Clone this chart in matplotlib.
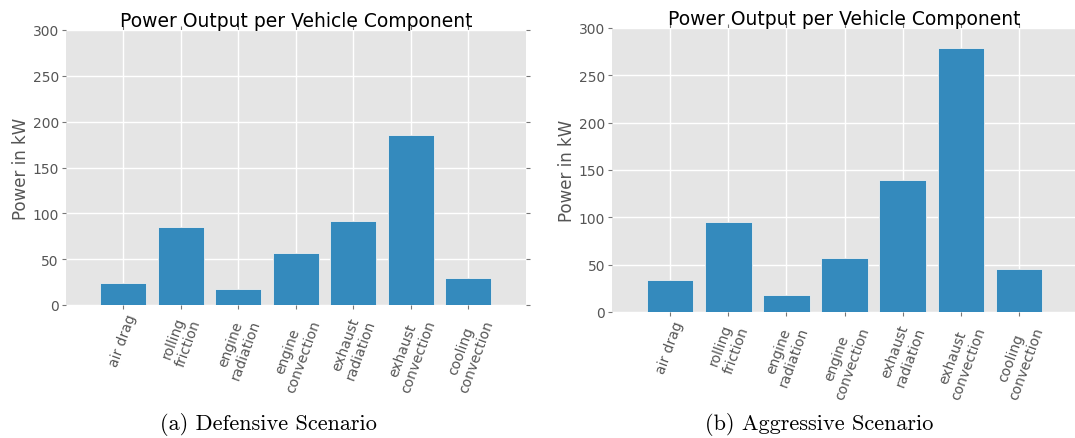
import matplotlib
matplotlib.use("Agg")
import matplotlib.pyplot as plt
import numpy as np

categories = ["air drag", "rolling\nfriction", "engine\nradiation", "engine\nconvection",
              "exhaust\nradiation", "exhaust\nconvection", "cooling\nconvection"]
defensive = [23.6, 85.5, 17.8, 57.1, 92.0, 185.8, 29.8]
aggressive = [33.3, 94.6, 17.5, 57.1, 139.5, 279.4, 45.2]
y_ticks = [0, 50, 100, 150, 200, 250, 300]
title = "Power Output per Vehicle Component"
ylabel = "Power in kW"
captions = ["(a) Defensive Scenario", "(b) Aggressive Scenario"]

fig = plt.figure(figsize=(10.75, 4.39), dpi=100)
W, H = 1075, 439
boxes = [(65.7, 31, 526, 306), (612, 29, 1077, 313)]
cap_x = [268, 819]
data = [defensive, aggressive]

for i, (box, vals) in enumerate(zip(boxes, data)):
    l, t, r, b = box
    ax = fig.add_axes([l / W, 1 - b / H, (r - l) / W, (b - t) / H])
    ax.set_facecolor("#E5E5E5")
    for s in ax.spines.values():
        s.set_visible(False)
    x = np.arange(len(categories))
    ax.bar(x, vals, width=0.8, color="#348ABD", edgecolor="#EEEEEE", linewidth=0.6, zorder=3)
    ax.set_xlim(-1, 7)
    ax.set_ylim(0, 300)
    ax.set_yticks(y_ticks)
    ax.set_xticks(x)
    ax.set_xticklabels(categories, rotation=70, fontsize=10, color="#555555")
    ax.tick_params(axis="y", labelsize=10, labelcolor="#555555")
    ax.tick_params(which="both", direction="out", length=3, width=0.8, color="#777777",
                   top=True, right=True, pad=2)
    ax.grid(True, color="white", linewidth=1.0, zorder=0)
    ax.set_axisbelow(True)
    ax.set_title(title, fontsize=13.5, color="black", pad=3)
    ax.set_ylabel(ylabel, fontsize=12, color="#555555", labelpad=2)
    fig.text(cap_x[i] / W, 1 - 425 / H, captions[i], fontsize=16, family="cmr10",
             ha="center", va="center")

fig.savefig("out.png", dpi=100)
